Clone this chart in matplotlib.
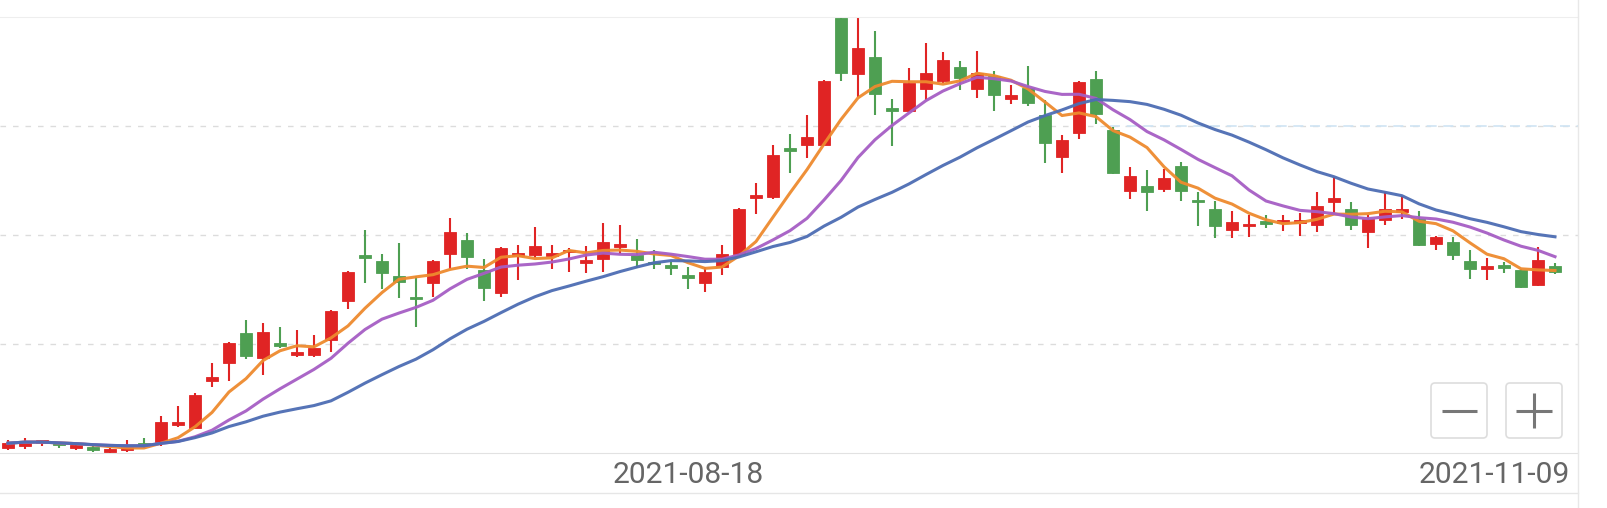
import numpy as np
import pandas as pd
import matplotlib
matplotlib.use('Agg')
import matplotlib.pyplot as plt
import matplotlib.transforms as mtransforms
from matplotlib.patches import FancyBboxPatch

# ── DATA (daily OHLC) ────────────────────────────────────────────────────────
opens = [4.05, 4.06, 4.09, 4.08, 4.05, 4.04, 4.01, 4.03, 4.08, 4.10,
         4.26, 4.23, 4.66, 4.83, 5.10, 4.87, 5.01, 4.90, 4.90, 5.04,
         5.39, 5.82, 5.76, 5.62, 5.43, 5.56, 5.83, 5.95, 5.68, 5.47,
         5.81, 5.82, 5.81, 5.84, 5.74, 5.78, 5.89, 5.82, 5.75, 5.71,
         5.63, 5.56, 5.71, 5.83, 6.34, 6.35, 6.79, 6.83, 6.83, 7.99,
         7.48, 7.63, 7.16, 7.14, 7.34, 7.41, 7.54, 7.34, 7.46, 7.25,
         7.35, 7.10, 6.72, 6.94, 7.43, 6.96, 6.40, 6.45, 6.42, 6.63,
         6.31, 6.24, 6.05, 6.08, 6.11, 6.11, 6.11, 6.09, 6.30, 6.24,
         6.03, 6.14, 6.21, 6.15, 5.92, 5.94, 5.76, 5.69, 5.72, 5.68,
         5.54, 5.72]
highs = [4.12, 4.14, 4.11, 4.10, 4.09, 4.06, 4.05, 4.12, 4.14, 4.34,
         4.43, 4.55, 4.83, 5.02, 5.22, 5.19, 5.16, 5.13, 5.08, 5.31,
         5.67, 6.05, 5.83, 5.93, 5.62, 5.77, 6.16, 6.02, 5.78, 5.89,
         5.91, 6.07, 5.91, 5.88, 5.90, 6.11, 6.09, 5.96, 5.86, 5.75,
         5.71, 5.71, 5.91, 6.25, 6.48, 6.83, 6.93, 7.10, 7.42, 8.00,
         7.99, 7.87, 7.25, 7.53, 7.76, 7.68, 7.60, 7.69, 7.50, 7.38,
         7.55, 7.24, 6.92, 7.41, 7.50, 6.99, 6.62, 6.60, 6.61, 6.67,
         6.39, 6.31, 6.22, 6.18, 6.18, 6.18, 6.20, 6.39, 6.53, 6.30,
         6.18, 6.39, 6.36, 6.22, 5.99, 5.98, 5.86, 5.79, 5.75, 5.69,
         5.89, 5.74]
lows = [4.03, 4.04, 4.06, 4.05, 4.03, 4.01, 4.00, 4.01, 4.05, 4.06,
        4.24, 4.22, 4.61, 4.66, 4.86, 4.72, 4.96, 4.88, 4.88, 4.93,
        5.32, 5.56, 5.50, 5.42, 5.16, 5.43, 5.69, 5.69, 5.39, 5.43,
        5.59, 5.79, 5.69, 5.66, 5.65, 5.66, 5.83, 5.70, 5.69, 5.63,
        5.50, 5.48, 5.63, 5.82, 6.19, 6.33, 6.57, 6.71, 6.82, 7.41,
        7.27, 7.10, 6.82, 7.13, 7.24, 7.39, 7.33, 7.26, 7.14, 7.20,
        7.18, 6.66, 6.57, 6.88, 7.02, 6.56, 6.33, 6.22, 6.39, 6.31,
        6.08, 5.97, 5.97, 5.98, 6.06, 6.04, 5.99, 6.03, 6.20, 6.05,
        5.88, 6.09, 6.15, 5.90, 5.86, 5.77, 5.60, 5.59, 5.65, 5.51,
        5.53, 5.64]
closes = [4.09, 4.11, 4.10, 4.07, 4.06, 4.03, 4.03, 4.04, 4.07, 4.28,
          4.28, 4.53, 4.70, 5.01, 4.89, 5.11, 4.98, 4.93, 4.96, 5.30,
          5.66, 5.79, 5.65, 5.57, 5.41, 5.76, 6.03, 5.80, 5.51, 5.88,
          5.83, 5.90, 5.83, 5.85, 5.77, 5.94, 5.92, 5.77, 5.73, 5.70,
          5.61, 5.66, 5.83, 6.24, 6.36, 6.73, 6.77, 6.90, 7.41, 7.49,
          7.72, 7.29, 7.14, 7.39, 7.49, 7.61, 7.44, 7.49, 7.28, 7.28,
          7.21, 6.84, 6.87, 7.40, 7.11, 6.57, 6.54, 6.39, 6.52, 6.40,
          6.30, 6.08, 6.12, 6.10, 6.10, 6.12, 6.13, 6.27, 6.34, 6.09,
          6.15, 6.24, 6.24, 5.91, 5.98, 5.82, 5.69, 5.72, 5.70, 5.52,
          5.77, 5.66]

MA_WINDOWS = [5, 10, 20]
MA_COLORS  = ['#ee8a2e', '#a65ec4', '#4d6db3']

DATE_TICK_IDX   = 40
DATE_TICK_LABEL = '2021-08-18'
LAST_LABEL      = '2021-11-09'

UP_COLOR   = '#e02424'
DOWN_COLOR = '#4e9f52'

# ── FIGURE ───────────────────────────────────────────────────────────────────
W, H = 1608, 508
fig = plt.figure(figsize=(W / 100, H / 100), dpi=100)
fig.patch.set_facecolor('white')

ax = fig.add_axes([0, 1 - 453 / H, 1578 / W, (453 - 17) / H])
n = len(closes)
x = np.arange(n)
o = np.array(opens); c = np.array(closes)
hi = np.array(highs); lo = np.array(lows)

up = c >= o
colors = np.where(up, UP_COLOR, DOWN_COLOR)
body_bot = np.minimum(o, c)
body_h = np.maximum(np.abs(c - o), 0.025)

ax.vlines(x, lo, hi, colors=colors, linewidth=1.5, zorder=2)
ax.bar(x, body_h, bottom=body_bot, width=0.68, color=colors,
       edgecolor=colors, linewidth=0.6, zorder=3)

close_s = pd.Series(closes)
for win, col in zip(MA_WINDOWS, MA_COLORS):
    ma = close_s.rolling(win, min_periods=1).mean()
    ax.plot(x, ma, color=col, linewidth=2.2, zorder=4, alpha=0.95,
            solid_joinstyle='round')

ax.set_xlim(-8 / 17, (1578 - 8) / 17)
ax.set_ylim(4.0, 8.0)
ax.set_yticks([5, 6, 7])
ax.yaxis.grid(True, linestyle=(0, (4, 5)), color='#dcdcdc', linewidth=1.0)
ax.hlines(7.0, 64.8, ax.get_xlim()[1], colors='#cfe4f4',
          linestyles=(0, (6, 4)), linewidth=1.2, zorder=1)
ax.set_xticks([])
ax.tick_params(length=0, labelleft=False)
for side in ['left', 'right']:
    ax.spines[side].set_visible(False)
ax.spines['top'].set_color('#eeeeee')
ax.spines['bottom'].set_color('#e2e2e2')
ax.set_axisbelow(True)

trans = mtransforms.blended_transform_factory(ax.transData, ax.transAxes)
ax.text(DATE_TICK_IDX, -22 / 436, DATE_TICK_LABEL, transform=trans,
        ha='center', va='center', fontsize=21.6, color='#666666',
        family='Roboto')
ax.text(1570 / 1578, -22 / 436, LAST_LABEL, transform=ax.transAxes,
        ha='right', va='center', fontsize=21.6, color='#666666',
        family='Roboto')

# ── UI CHROME (zoom buttons, frame lines) ────────────────────────────────────
ui = fig.add_axes([0, 0, 1, 1], zorder=5)
ui.set_xlim(0, W); ui.set_ylim(H, 0)
ui.axis('off')
ui.patch.set_alpha(0)
ui.plot([0, 1578], [493, 493], color='#e6e6e6', linewidth=1)
ui.plot([1578, 1578], [0, H], color='#e8e8e8', linewidth=1)
for x0 in (1431, 1506):
    ui.add_patch(FancyBboxPatch((x0, 383), 56, 55,
                                boxstyle='round,pad=0,rounding_size=4',
                                facecolor='white', edgecolor='#dddddd',
                                linewidth=1.2))
ui.plot([1442, 1477], [410.5, 410.5], color='#777777', linewidth=2.2,
        solid_capstyle='butt')
ui.plot([1516, 1552], [410.5, 410.5], color='#777777', linewidth=2.2,
        solid_capstyle='butt')
ui.plot([1534, 1534], [393, 428], color='#777777', linewidth=2.2,
        solid_capstyle='butt')

plt.savefig('out.png', dpi=100)
plt.close()
